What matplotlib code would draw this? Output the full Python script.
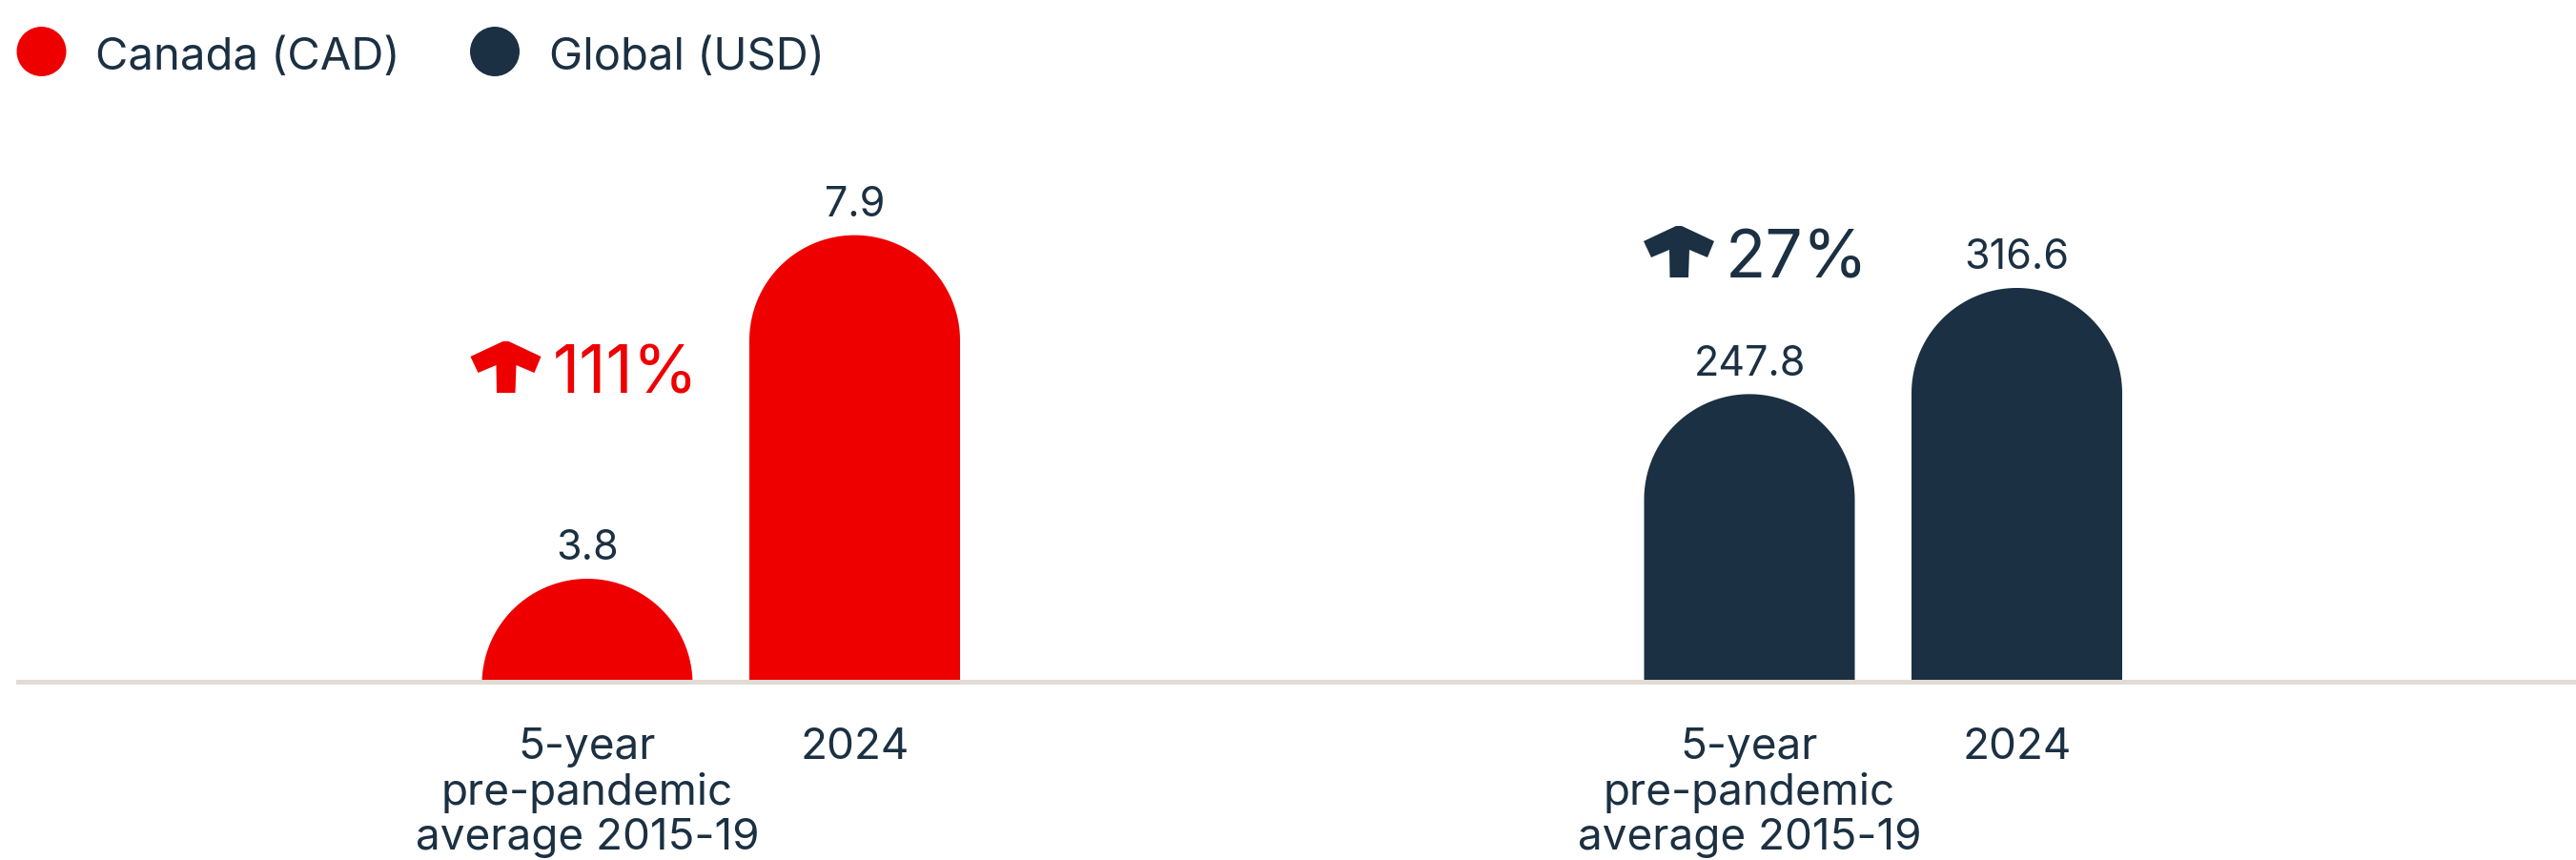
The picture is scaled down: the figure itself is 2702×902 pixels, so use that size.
"""Rounded-bar comparison of Canadian and global values, pre-pandemic vs 2024."""

import matplotlib
matplotlib.use("Agg")
import numpy as np
import matplotlib.pyplot as plt
from matplotlib.patches import Ellipse, Polygon, Rectangle

W, H = 2702, 903
DPI = 100

RED = "#EE0000"
NAVY = "#1B3042"
RULE = "#E2DBD3"

plt.rcParams["font.family"] = ["Inter", "DejaVu Sans"]

series = ["Canada (CAD)", "Global (USD)"]
series_colors = [RED, NAVY]
periods = ["5-year\npre-pandemic\naverage 2015-19", "2024"]
canada_values = [3.8, 7.9]
global_values = [247.8, 316.6]
canada_change = "111%"
global_change = "27%"

# each panel has its own y range; the baseline is not zero
canada_ylim = (2.6, 9.58)
global_ylim = (63.0, 442.0)

BASE_PX = 713.5      # baseline, pixels from top
TOP_PX = 100.0       # top of plotting area, pixels from top
X_STEP_PX = 280.5    # pixels between the two bars of a panel
BAR_PX = 221.0       # bar width in pixels


def fx(px):
    return px / W


def fy(py):
    return 1.0 - py / H


def rounded_bar(ax, x, value, color, px_per_y):
    """Bar whose top is a semicircle; the part under the baseline is clipped."""
    half = BAR_PX / X_STEP_PX / 2
    r_y = (BAR_PX / 2) / px_per_y
    yc = value - r_y
    t = np.linspace(np.pi, 0, 90)
    arc = np.column_stack([x + half * np.cos(t), yc + r_y * np.sin(t)])
    pts = np.vstack([[x - half, 0], arc, [x + half, 0]])
    ax.add_patch(Polygon(pts, closed=True, facecolor=color, edgecolor="none"))


def draw_panel(ax, values, ylim, color, first_bar_px, left_px, width_px):
    xs = list(range(len(values)))
    ax.set_xlim((left_px - first_bar_px) / X_STEP_PX,
                (left_px + width_px - first_bar_px) / X_STEP_PX)
    ax.set_ylim(*ylim)
    px_per_y = (BASE_PX - TOP_PX) / (ylim[1] - ylim[0])
    for x, v in zip(xs, values):
        rounded_bar(ax, x, v, color, px_per_y)
        ax.annotate(f"{v:.1f}", (x, v), xytext=(0, 15), textcoords="offset points",
                    ha="center", va="baseline", fontsize=31, color=NAVY)
    ax.set_xticks(xs, periods)
    ax.tick_params(axis="x", length=0, pad=36, labelsize=33, labelcolor=NAVY)
    for lbl in ax.get_xticklabels():
        lbl.set_linespacing(1.14)
    ax.set_yticks([])
    for s in ax.spines.values():
        s.set_visible(False)
    ax.patch.set_visible(False)


def up_arrow(fig, cx, top, color):
    # arrow glyph, offsets in pixels from top-centre
    pts = [(-3, 0), (3, 0), (37, 16), (30, 33), (11, 25), (10, 54),
           (-9.5, 54), (-10, 25), (-29, 33), (-37, 16)]
    poly = Polygon([(fx(cx + dx), fy(top + dy)) for dx, dy in pts],
                   closed=True, facecolor=color, edgecolor="none",
                   transform=fig.transFigure)
    fig.add_artist(poly)


fig = plt.figure(figsize=(W / DPI, H / DPI), dpi=DPI)
fig.patch.set_facecolor("white")

# baseline rule across both panels
fig.add_artist(Rectangle((fx(17), fy(719)), fx(W - 17), (719 - BASE_PX) / H,
                         facecolor=RULE, edgecolor="none",
                         transform=fig.transFigure, zorder=0))

ax_h = (BASE_PX - TOP_PX) / H
ax_ca = fig.add_axes([0, fy(BASE_PX), fx(1351), ax_h])
ax_gl = fig.add_axes([fx(1351), fy(BASE_PX), fx(1351), ax_h])

draw_panel(ax_ca, canada_values, canada_ylim, RED, 616, 0, 1351)
draw_panel(ax_gl, global_values, global_ylim, NAVY, 1835, 1351, 1351)

# percentage change call-outs
up_arrow(fig, 530.5, 359, RED)
fig.text(fx(580), fy(412.5), canada_change, fontsize=50, color=RED,
         ha="left", va="baseline")
up_arrow(fig, 1761, 238, NAVY)
fig.text(fx(1810), fy(292), global_change, fontsize=50, color=NAVY,
         ha="left", va="baseline")

# legend
legend_x = [43.5, 519]
for x, name, c in zip(legend_x, series, series_colors):
    fig.add_artist(Ellipse((fx(x), fy(55)), 52 / W, 52 / H, facecolor=c,
                           edgecolor="none", transform=fig.transFigure))
    fig.text(fx(x + 57), fy(73), name, fontsize=34, color=NAVY,
             ha="left", va="baseline")

fig.savefig("out.png", dpi=DPI)
